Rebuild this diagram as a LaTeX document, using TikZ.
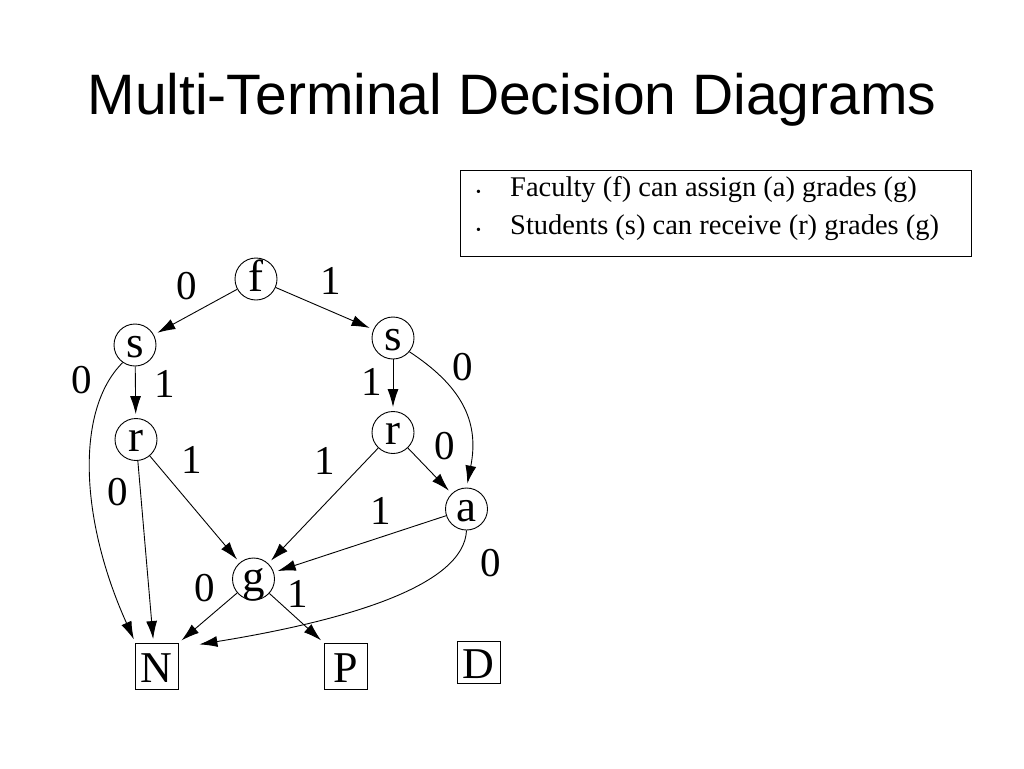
\documentclass[tikz,border=0pt]{standalone}
\usepackage{fontspec}
\setmainfont{Liberation Serif}
\newfontfamily\titlefont{Liberation Sans}
\usetikzlibrary{arrows.meta}
\begin{document}
\begin{tikzpicture}[x=1pt,y=-1pt,
  vnode/.style={draw,circle,minimum size=42pt,inner sep=0pt,text height=24.6pt,text depth=0pt,font=\fontsize{45}{45}\selectfont,line width=0.9pt},
  tnode/.style={draw,rectangle,minimum width=43pt,minimum height=46pt,inner sep=0pt,text height=32pt,text depth=0pt,font=\fontsize{44}{44}\selectfont,line width=0.9pt},
  elab/.style={font=\fontsize{41}{41}\selectfont,inner sep=0pt},
  edge/.style={line width=0.9pt,shorten >=4pt,-{Latex[length=18pt,width=11pt]}},
  btext/.style={anchor=west,font=\fontsize{28.5}{28.5}\selectfont,inner sep=0pt}
]
\useasboundingbox (0,0) rectangle (1024,768);
\node[font=\titlefont\fontsize{57}{57}\selectfont] (title) at (512,100) {Multi-Terminal Decision Diagrams};
\node[draw,line width=0.7pt,minimum width=511pt,minimum height=86pt,anchor=north west] (box) at (460,170) {};
\node[btext] (b1) at (476,190) {\makebox[34pt][l]{\fontsize{14}{14}\selectfont\textbullet}Faculty (f) can assign (a) grades (g)};
\node[btext] (b2) at (476,228) {\makebox[34pt][l]{\fontsize{14}{14}\selectfont\textbullet}Students (s) can receive (r) grades (g)};

\node[vnode] (f) at (256,279) {f};
\node[vnode] (sl) at (135,345) {s};
\node[vnode] (sr) at (393,338) {s};
\node[vnode] (rl) at (136,439.5) {r};
\node[vnode] (rr) at (393,432.5) {r};
\node[vnode] (a) at (466.5,509) {a};
\node[vnode] (g) at (253.5,579) {g};
\node[tnode] (N) at (156.5,666.5) {N};
\node[tnode] (P) at (346,666.5) {P};
\node[tnode,minimum height=42pt] (D) at (478.5,662.5) {D};

\draw[edge] (f) -- (sl);
\draw[edge] (f) -- (sr);
\draw[edge] (sl) -- (rl);
\draw[edge] (sr) -- (rr);
\draw[edge] (sl.-125) .. controls (75,410) and (80,520) .. ([xshift=-21pt]N.north);
\draw[edge] (rl) -- ([xshift=-3pt]N.north);
\draw[edge] (rl) -- (g);
\draw[edge] (sr.-40) .. controls (460,385) and (480,420) .. (a.north);
\draw[edge] (rr) -- (a);
\draw[edge] (rr) -- (g);
\draw[edge] (a) -- (g);
\draw[edge] (a.south) .. controls (464,585) and (350,620) .. ([xshift=17pt,yshift=-2pt]N.north east);
\draw[edge] (g) -- (N.north east);
\draw[edge] (g) -- (P.north west);

\node[elab] (l1) at (187,286) {0};
\node[elab] (l2) at (331,281) {1};
\node[elab] (l3) at (82,380) {0};
\node[elab] (l4) at (165,384) {1};
\node[elab] (l5) at (372,382) {1};
\node[elab] (l6) at (463,367) {0};
\node[elab] (l7) at (192,460) {1};
\node[elab] (l8) at (118,492) {0};
\node[elab] (l9) at (325,461) {1};
\node[elab] (l10) at (445,446) {0};
\node[elab] (l11) at (381,511) {1};
\node[elab] (l12) at (491,563) {0};
\node[elab] (l13) at (205,588) {0};
\node[elab] (l14) at (298,594) {1};
\end{tikzpicture}
\end{document}
